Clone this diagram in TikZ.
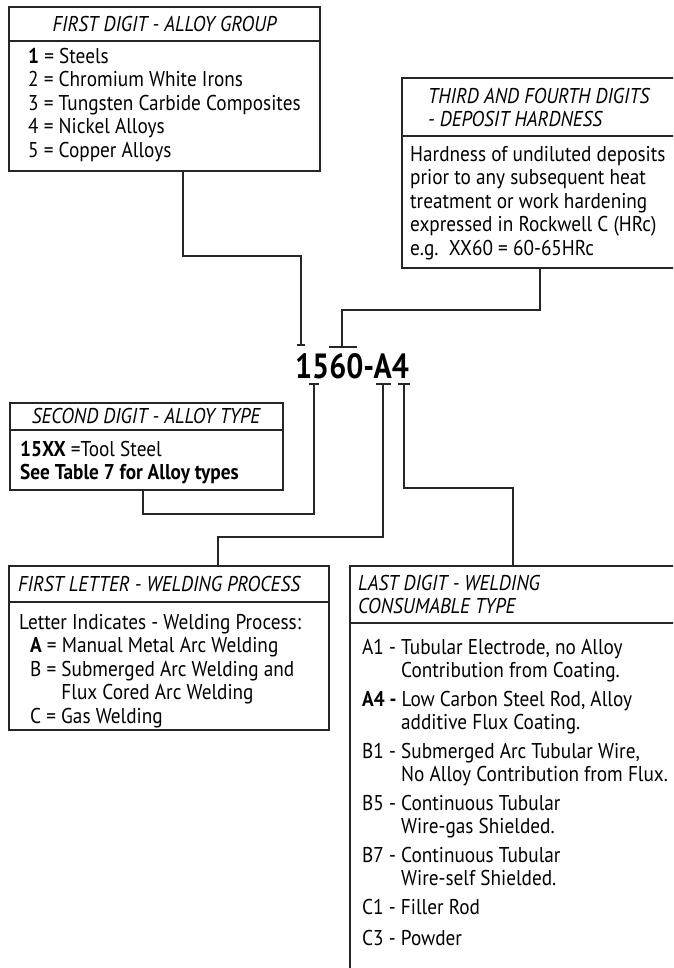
\documentclass[tikz,border=0pt]{standalone}
\usepackage{fontspec}
\setmainfont{PT Sans}[FakeStretch=0.9]
\newfontfamily\codefont{PT Sans}[FakeStretch=0.86]
\begin{document}
\begin{tikzpicture}[x=1pt,y=-1pt,
  box/.style={draw=black!85, line width=1.2pt, anchor=north west, inner sep=0, outer sep=0},
  conn/.style={draw=black!85, line width=1.2pt},
  hdr/.style={font=\fontsize{21.4}{23}\selectfont\itshape, inner sep=0, align=left},
  body/.style={font=\fontsize{21.4}{23.5}\selectfont, inner sep=0, align=left, anchor=north west},
  code/.style={font=\codefont\bfseries\fontsize{35}{40}\selectfont, inner sep=0}]
\useasboundingbox (0,0) rectangle (673,968);
\clip (0,0) rectangle (673,968);
\fill[white] (0,0) rectangle (673,968);

% boxes
\node[box, minimum width=311, minimum height=164] (b1) at (9,7) {};
\node[box, minimum width=300, minimum height=190] (b3) at (402,78) {};
\node[box, minimum width=273, minimum height=87] (b2) at (10,403) {};
\node[box, minimum width=320, minimum height=164] (b4) at (9,566) {};
\node[box, minimum width=340, minimum height=420] (b5) at (350,566) {};

% header separators
\draw[conn] (b1.west |- 0,41) -- (b1.east |- 0,41);
\draw[conn] (b3.west |- 0,136) -- (b3.east |- 0,136);
\draw[conn] (b2.west |- 0,430) -- (b2.east |- 0,430);
\draw[conn] (b4.west |- 0,602) -- (b4.east |- 0,602);
\draw[conn] (b5.west |- 0,623) -- (b5.east |- 0,623);

% headers
\node[hdr] (h1) at (164.5,24) {FIRST DIGIT - ALLOY GROUP};
\node[hdr, anchor=west] (h3) at (428,107.5) {THIRD AND FOURTH DIGITS\\- DEPOSIT HARDNESS};
\node[hdr] (h2) at (146,416) {SECOND DIGIT - ALLOY TYPE};
\node[hdr, anchor=west] (h4) at (18,584) {FIRST LETTER - WELDING PROCESS};
\node[hdr, anchor=west] (h5) at (358,594.5) {LAST DIGIT - WELDING\\CONSUMABLE TYPE};

% bodies
\node[body] (t1) at (28,48) {\textbf{1} = Steels\\2 = Chromium White Irons\\3 = Tungsten Carbide Composites\\4 = Nickel Alloys\\5 = Copper Alloys};
\node[body] (t3) at (410,146) {Hardness of undiluted deposits\\prior to any subsequent heat\\treatment or work hardening\\expressed in Rockwell C (HRc)\\e.g.\ \ XX60 = 60-65HRc};
\node[body] (t2) at (20,441) {\textbf{15XX} =Tool Steel\\\textbf{See Table 7 for Alloy types}};
\node[body] (t4) at (19,614) {Letter Indicates - Welding Process:\\
  \hspace*{11pt}\textbf{A} = Manual Metal Arc Welding\\
  \hspace*{11pt}B = Submerged Arc Welding and\\
  \hspace*{11pt}\phantom{B = }Flux Cored Arc Welding\\
  \hspace*{11pt}C = Gas Welding};
\node[body] (t5) at (362,639) {A1 - Tubular Electrode, no Alloy\\
  \phantom{A1 - }Contribution from Coating.\\[5pt]
  \textbf{A4 -} Low Carbon Steel Rod, Alloy\\
  \phantom{A1 - }additive Flux Coating.\\[5pt]
  B1 - Submerged Arc Tubular Wire,\\
  \phantom{A1 - }No Alloy Contribution from Flux.\\[5pt]
  B5 - Continuous Tubular\\
  \phantom{A1 - }Wire-gas Shielded.\\[5pt]
  B7 - Continuous Tubular\\
  \phantom{A1 - }Wire-self Shielded.\\[5pt]
  C1 - Filler Rod\\[8pt]
  C3 - Powder};

% code
\node[code] (code) at (352,366) {1560-A4};

% ticks
\coordinate (k1) at (301,345);
\coordinate (k3) at (342,347);
\coordinate (k2) at (314,384);
\coordinate (k4) at (383,384);
\coordinate (k5) at (404,384);
\draw[conn] ([xshift=-4]k1) -- ([xshift=4]k1);
\draw[conn] ([xshift=-13]k3) -- ([xshift=15]k3);
\draw[conn] ([xshift=-5]k2) -- ([xshift=5]k2);
\draw[conn] ([xshift=-7]k4) -- ([xshift=8]k4);
\draw[conn] ([xshift=-6]k5) -- ([xshift=6]k5);

% connectors
\draw[conn] (b1.south -| 183,0) -- (183,256) -- (301,256) -- (k1);
\draw[conn] (b3.south -| 540,0) -- (540,310) -- (342,310) -- (k3);
\draw[conn] (k2) -- (314,514) -- (143,514) -- (b2.south -| 143,0);
\draw[conn] (k4) -- (383,537) -- (218,537) -- (b4.north -| 218,0);
\draw[conn] (k5) -- (404,488) -- (513,488) -- (b5.north -| 513,0);
\end{tikzpicture}
\end{document}
